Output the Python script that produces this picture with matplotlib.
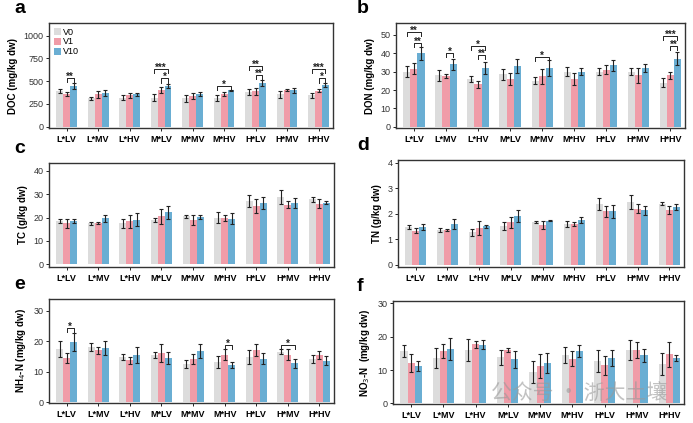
import matplotlib
matplotlib.use("Agg")
import matplotlib.pyplot as plt
import numpy as np

plt.rcParams['font.family'] = ['Liberation Sans', 'DejaVu Sans']

groups = ["L*LV", "L*MV", "L*HV", "M*LV", "M*MV", "M*HV", "H*LV", "H*MV", "H*HV"]
series = ["V0", "V1", "V10"]

doc_v0 = [390, 310, 320, 320, 310, 315, 380, 355, 345]
doc_v1 = [360, 355, 345, 400, 335, 360, 390, 400, 395]
doc_v10 = [445, 370, 355, 450, 360, 400, 480, 400, 460]
doc_e0 = [25, 20, 25, 40, 40, 30, 30, 35, 30]
doc_e1 = [25, 35, 30, 35, 30, 25, 40, 10, 15]
doc_e10 = [30, 30, 20, 20, 20, 8, 30, 30, 25]

don_v0 = [30, 28, 26, 28.5, 25, 30, 30, 30, 24]
don_v1 = [31.5, 27.5, 23, 26, 27.5, 26, 31, 28, 28]
don_v10 = [40, 34, 32, 33, 32, 30, 33.5, 32, 37]
don_e0 = [3, 3, 1.5, 3, 2, 2.5, 2, 2, 2.5]
don_e1 = [3, 1, 2, 3.5, 4, 3.5, 2.5, 4, 2]
don_e10 = [3.5, 3, 3.5, 4, 4.5, 2, 3, 2, 3.5]

tc_v0 = [18.5, 17.5, 17.5, 19, 20.5, 20, 27, 29, 27.8]
tc_v1 = [17.5, 17.8, 18.5, 20.5, 19, 19.8, 25, 25.5, 26]
tc_v10 = [18.5, 19.8, 19, 22.3, 20.2, 19.5, 26.3, 26.2, 26.3]
tc_e0 = [1, 0.7, 1.8, 1, 0.5, 2.2, 2.5, 3, 1]
tc_e1 = [2, 0.5, 2.8, 3.2, 2, 1.2, 3, 1.5, 2]
tc_e10 = [1, 1.5, 2.8, 2.8, 1, 2.3, 2.5, 2, 0.6]

tn_v0 = [1.48, 1.37, 1.27, 1.52, 1.67, 1.6, 2.38, 2.45, 2.4]
tn_v1 = [1.33, 1.37, 1.45, 1.67, 1.55, 1.6, 2.1, 2.2, 2.15]
tn_v10 = [1.48, 1.6, 1.52, 1.9, 1.72, 1.75, 2.1, 2.13, 2.25]
tn_e0 = [0.08, 0.08, 0.12, 0.15, 0.03, 0.1, 0.23, 0.27, 0.06]
tn_e1 = [0.1, 0.05, 0.28, 0.22, 0.15, 0.06, 0.22, 0.18, 0.15]
tn_e10 = [0.12, 0.18, 0.06, 0.23, 0.02, 0.13, 0.25, 0.18, 0.12]

nh4_v0 = [17.5, 18, 14.7, 15.5, 12.7, 13.2, 14.8, 16.5, 14.3]
nh4_v1 = [14.5, 17, 13.8, 16.2, 14.2, 15.6, 17.2, 15.5, 15.5]
nh4_v10 = [19.8, 17.8, 15.5, 14.5, 16.8, 12.2, 14.2, 12.8, 13.6]
nh4_e0 = [2.5, 1.3, 1, 1, 1.3, 2, 2.2, 0.8, 1.3]
nh4_e1 = [1.5, 1.2, 1.2, 3, 1.5, 1.7, 2, 1.8, 1.3]
nh4_e10 = [3, 2.2, 2.7, 2, 2.3, 1, 1.8, 1.5, 1.5]

no3_v0 = [15.8, 13.6, 16, 13.8, 9.5, 14.5, 12.6, 16, 11.7]
no3_v1 = [12, 15.7, 17.7, 16.1, 11.2, 13.4, 11.4, 16, 14.7]
no3_v10 = [11.3, 16.3, 17.6, 13.2, 12, 15.7, 13.6, 14.4, 13.6]
no3_e0 = [1.8, 3, 3.3, 2.3, 3.3, 2.5, 3.3, 3, 3.3]
no3_e1 = [2.7, 2.2, 1.1, 0.6, 3.5, 2.3, 2.8, 2.3, 3.7]
no3_e10 = [1.5, 3.2, 1.3, 2.6, 3, 1.8, 2.3, 2, 1]

# significance brackets: (group index, from series, to series, height, label)
doc_sig = [(0, 1, 2, 540, "**"), (3, 0, 2, 630, "***"), (3, 1, 2, 530, "*"),
           (5, 0, 2, 450, "*"), (6, 0, 2, 670, "**"), (6, 1, 2, 570, "**"),
           (8, 0, 2, 630, "***"), (8, 1, 2, 530, "*")]
don_sig = [(0, 0, 2, 51.5, "**"), (0, 1, 2, 45.5, "**"), (1, 1, 2, 40, "*"),
           (2, 0, 2, 44, "*"), (2, 1, 2, 39, "**"), (4, 0, 2, 38, "*"),
           (8, 0, 2, 49.5, "***"), (8, 1, 2, 44, "**")]
nh4_sig = [(0, 1, 2, 24.2, "*"), (5, 1, 2, 18.8, "*"), (7, 0, 2, 18.8, "*")]

colors = ["#dcdcdc", "#f09ca8", "#6aaed3"]
w = 0.22

W, H = 693, 423
fig = plt.figure(figsize=(W / 100, H / 100), dpi=100)

def rect(x0, y0, x1, y1):
    return [x0 / W, 1 - y1 / H, (x1 - x0) / W, (y1 - y0) / H]

panels = [
    ("a", rect(49, 23, 333, 128), (doc_v0, doc_v1, doc_v10), (doc_e0, doc_e1, doc_e10),
     "DOC (mg/kg dw)", (-15, 1140), [0, 250, 500, 750, 1000], doc_sig, 45),
    ("b", rect(396, 23, 685, 128), (don_v0, don_v1, don_v10), (don_e0, don_e1, don_e10),
     "DON (mg/kg dw)", (-0.7, 56.5), [0, 10, 20, 30, 40, 50], don_sig, 2.0),
    ("c", rect(49, 163, 334, 267), (tc_v0, tc_v1, tc_v10), (tc_e0, tc_e1, tc_e10),
     "TC (g/kg dw)", (-1.2, 43.4), [0, 10, 20, 30, 40], [], 1),
    ("d", rect(398, 160, 684, 267), (tn_v0, tn_v1, tn_v10), (tn_e0, tn_e1, tn_e10),
     "TN (g/kg dw)", (-0.08, 4.1), [0, 1, 2, 3, 4], [], 0.1),
    ("e", rect(49, 299, 334, 403), (nh4_v0, nh4_v1, nh4_v10), (nh4_e0, nh4_e1, nh4_e10),
     "NH$_4$-N (mg/kg dw)", (-0.2, 33.8), [0, 10, 20, 30], nh4_sig, 1.2),
    ("f", rect(393, 301, 684, 404), (no3_v0, no3_v1, no3_v10), (no3_e0, no3_e1, no3_e10),
     "NO$_3$-N  (mg/kg dw)", (-0.2, 30.7), [0, 10, 20, 30], [], 1.5),
]

x = np.arange(len(groups))
for letter, pos, vals, errs, ylabel, ylim, yticks, sig, tick_h in panels:
    ax = fig.add_axes(pos)
    for i, (v, e) in enumerate(zip(vals, errs)):
        xi = x + (i - 1) * w
        ax.bar(xi, v, width=w, color=colors[i], label=series[i], zorder=2)
        ax.errorbar(xi, v, yerr=e, fmt="none", ecolor="#222222", elinewidth=0.8,
                    capsize=1.5, capthick=0.8, zorder=3)
    for g, s0, s1, h, lab in sig:
        xa = g + (s0 - 1) * w
        xb = g + (s1 - 1) * w
        ax.plot([xa, xa, xb, xb], [h - tick_h, h, h, h - tick_h], color="#222222",
                lw=0.7, zorder=4)
        ax.annotate(lab, xy=((xa + xb) / 2, h), xytext=(0, -1.3),
                    textcoords="offset points", ha="center", va="baseline",
                    fontsize=7, fontweight="bold", color="#222222")
    ax.set_xlim(-0.56, 8.46)
    ax.set_ylim(*ylim)
    ax.set_yticks(yticks)
    ax.set_xticks(x)
    ax.set_xticklabels(groups, fontsize=6.5, fontweight="bold")
    ax.tick_params(axis="y", labelsize=6.5, length=2, width=0.6, pad=2,
                   labelcolor="#333333")
    ax.tick_params(axis="x", length=2, width=0.6, pad=3)
    ax.set_ylabel(ylabel, fontsize=7, fontweight="bold", labelpad=4)
    for sp in ax.spines.values():
        sp.set_linewidth(1.0)
        sp.set_color("#333333")
    if letter == "a":
        ax.legend(loc="upper left", fontsize=6.5, frameon=False, handlelength=0.8,
                  handleheight=0.8, handletextpad=0.3, labelspacing=0.1,
                  borderaxespad=0.3, borderpad=0.2)
    fig.text(14 / W if letter in "ace" else 357 / W, pos[1] + pos[3] + 6 / H, letter,
             fontsize=14, fontweight="bold", ha="left", va="bottom")

fig.text(0.835, 0.07, "公众号 · 浙大土壤", fontsize=15, color="#9a9a9a", alpha=0.6,
         ha="center", va="center", family=["Noto Sans CJK SC", "DejaVu Sans"])

fig.savefig("out.png", dpi=100)
